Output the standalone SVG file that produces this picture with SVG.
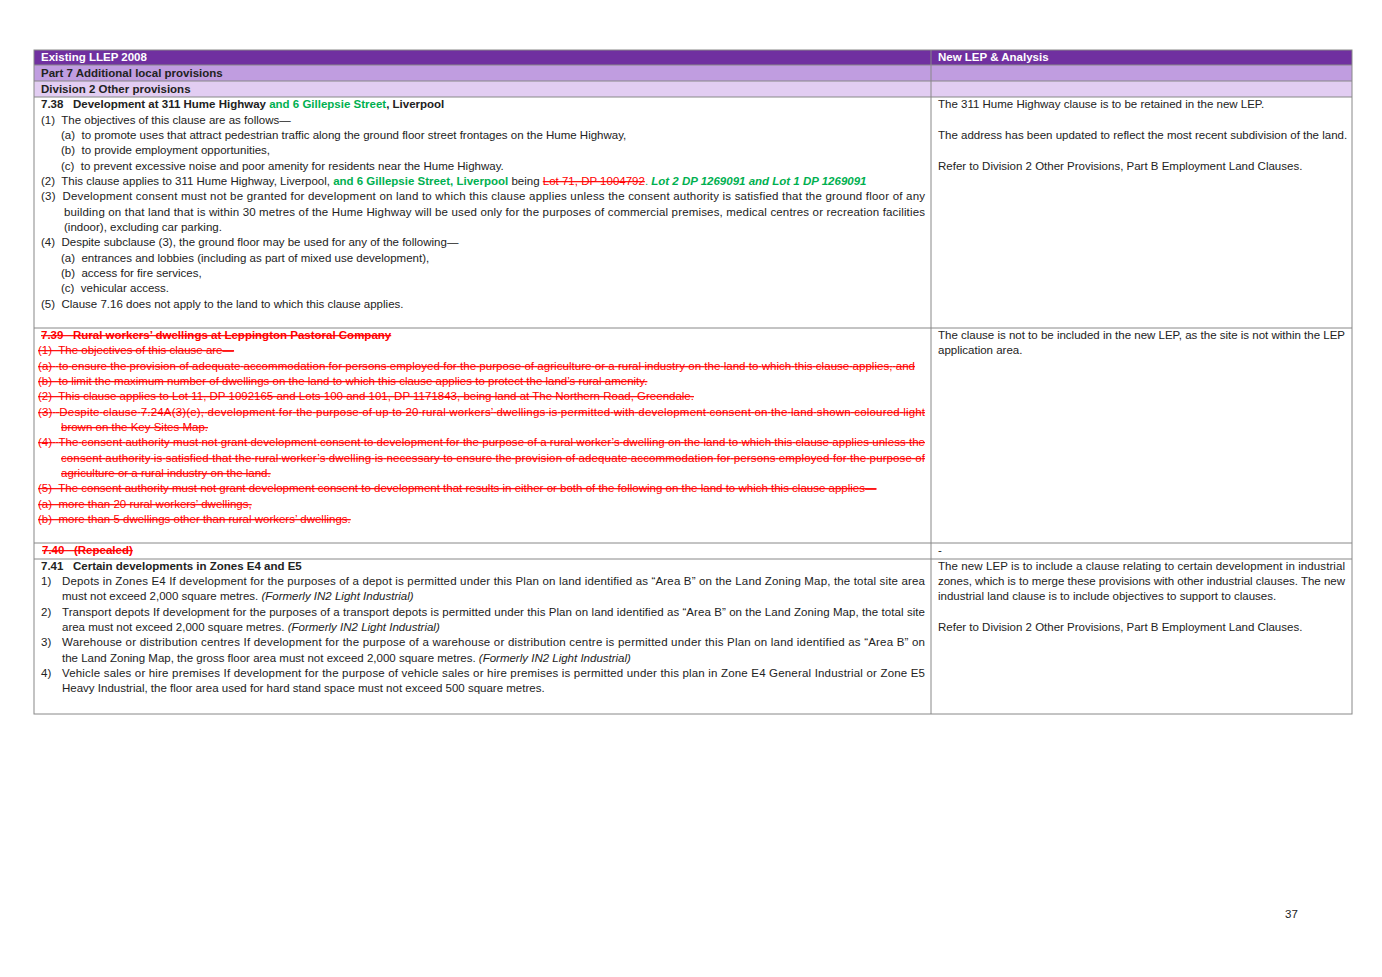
<svg xmlns="http://www.w3.org/2000/svg" width="1382" height="977" viewBox="0 0 1382 977">
<style>
text{font-family:"Liberation Sans",Arial,sans-serif;font-size:11.5px;fill:#222;white-space:pre}
.b{font-weight:bold}
.w{fill:#fff;font-weight:bold}
.g{fill:#00b050}
.r{fill:#ff0000;text-decoration:line-through}
.i{font-style:italic}
.ln{stroke:#888;stroke-width:1;fill:none}
</style>
<rect width="1382" height="977" fill="#fff"/>
<g id="table">
<rect x="34" y="50" width="1318" height="15" fill="#7030a0"/>
<rect x="34" y="65" width="1318" height="16" fill="#c09de0"/>
<rect x="34" y="81" width="1318" height="16" fill="#e2cdf2"/>
<rect x="34" y="50" width="1318" height="664" class="ln"/>
<line x1="931" y1="50" x2="931" y2="714" class="ln"/>
<line x1="34" y1="65" x2="1352" y2="65" class="ln"/>
<line x1="34" y1="81" x2="1352" y2="81" class="ln"/>
<line x1="34" y1="97" x2="1352" y2="97" class="ln"/>
<line x1="34" y1="328" x2="1352" y2="328" class="ln"/>
<line x1="34" y1="543" x2="1352" y2="543" class="ln"/>
<line x1="34" y1="559" x2="1352" y2="559" class="ln"/>
</g>
<g id="headers">
<text x="41" y="61" class="w">Existing LLEP 2008</text>
<text x="938" y="61" class="w">New LEP &amp; Analysis</text>
<text x="41" y="77" class="b">Part 7 Additional local provisions</text>
<text x="41" y="93" class="b">Division 2 Other provisions</text>
</g>
<g id="c738">
<text x="41" y="108" class="b">7.38   Development at 311 Hume Highway <tspan class="g">and 6 Gillepsie Street</tspan>, Liverpool</text>
<text x="41" y="124">(1)  The objectives of this clause are as follows—</text>
<text x="61" y="139">(a)  to promote uses that attract pedestrian traffic along the ground floor street frontages on the Hume Highway,</text>
<text x="61" y="154">(b)  to provide employment opportunities,</text>
<text x="61" y="170">(c)  to prevent excessive noise and poor amenity for residents near the Hume Highway.</text>
<text x="41" y="185">(2)  This clause applies to 311 Hume Highway, Liverpool, <tspan class="g b">and 6 Gillepsie Street, Liverpool</tspan> being <tspan class="r">Lot 71, DP 1004792</tspan><tspan class="g">. </tspan><tspan class="g b i">Lot 2 DP 1269091 and Lot 1 DP 1269091</tspan></text>
<text x="41" y="200" textLength="884" lengthAdjust="spacing">(3)  Development consent must not be granted for development on land to which this clause applies unless the consent authority is satisfied that the ground floor of any</text>
<text x="64" y="216" textLength="861" lengthAdjust="spacing">building on that land that is within 30 metres of the Hume Highway will be used only for the purposes of commercial premises, medical centres or recreation facilities</text>
<text x="64" y="231">(indoor), excluding car parking.</text>
<text x="41" y="246">(4)  Despite subclause (3), the ground floor may be used for any of the following—</text>
<text x="61" y="262">(a)  entrances and lobbies (including as part of mixed use development),</text>
<text x="61" y="277">(b)  access for fire services,</text>
<text x="61" y="292">(c)  vehicular access.</text>
<text x="41" y="308">(5)  Clause 7.16 does not apply to the land to which this clause applies.</text>
<text x="938" y="108">The 311 Hume Highway clause is to be retained in the new LEP.</text>
<text x="938" y="139">The address has been updated to reflect the most recent subdivision of the land.</text>
<text x="938" y="170">Refer to Division 2 Other Provisions, Part B Employment Land Clauses.</text>
</g>
<g id="c739">
<text x="41" y="339" class="r b">7.39   Rural workers’ dwellings at Leppington Pastoral Company</text>
<text x="38" y="354" class="r">(1)  The objectives of this clause are—</text>
<text x="38" y="370" class="r" textLength="877" lengthAdjust="spacing">(a)  to ensure the provision of adequate accommodation for persons employed for the purpose of agriculture or a rural industry on the land to which this clause applies, and</text>
<text x="38" y="385" class="r">(b)  to limit the maximum number of dwellings on the land to which this clause applies to protect the land’s rural amenity.</text>
<text x="38" y="400" class="r">(2)  This clause applies to Lot 11, DP 1092165 and Lots 100 and 101, DP 1171843, being land at The Northern Road, Greendale.</text>
<text x="38" y="416" class="r" textLength="887" lengthAdjust="spacing">(3)  Despite clause 7.24A(3)(e), development for the purpose of up to 20 rural workers’ dwellings is permitted with development consent on the land shown coloured light</text>
<text x="61" y="431" class="r">brown on the Key Sites Map.</text>
<text x="38" y="446" class="r" textLength="887" lengthAdjust="spacing">(4)  The consent authority must not grant development consent to development for the purpose of a rural worker’s dwelling on the land to which this clause applies unless the</text>
<text x="61" y="462" class="r" textLength="864" lengthAdjust="spacing">consent authority is satisfied that the rural worker’s dwelling is necessary to ensure the provision of adequate accommodation for persons employed for the purpose of</text>
<text x="61" y="477" class="r">agriculture or a rural industry on the land.</text>
<text x="38" y="492" class="r">(5)  The consent authority must not grant development consent to development that results in either or both of the following on the land to which this clause applies—</text>
<text x="38" y="508" class="r">(a)  more than 20 rural workers’ dwellings,</text>
<text x="38" y="523" class="r">(b)  more than 5 dwellings other than rural workers’ dwellings.</text>
<text x="938" y="339" textLength="407" lengthAdjust="spacing">The clause is not to be included in the new LEP, as the site is not within the LEP</text>
<text x="938" y="354">application area.</text>
</g>
<g id="c740">
<text x="42" y="554" class="r b">7.40   (Repealed)</text>
<text x="938" y="554">-</text>
</g>
<g id="c741">
<text x="41" y="570" class="b">7.41   Certain developments in Zones E4 and E5</text>
<text x="41" y="585">1)</text>
<text x="62" y="585" textLength="863" lengthAdjust="spacing">Depots in Zones E4 If development for the purposes of a depot is permitted under this Plan on land identified as “Area B” on the Land Zoning Map, the total site area</text>
<text x="62" y="600">must not exceed 2,000 square metres. <tspan class="i">(Formerly IN2 Light Industrial)</tspan></text>
<text x="41" y="616">2)</text>
<text x="62" y="616" textLength="863" lengthAdjust="spacing">Transport depots If development for the purposes of a transport depots is permitted under this Plan on land identified as “Area B” on the Land Zoning Map, the total site</text>
<text x="62" y="631">area must not exceed 2,000 square metres. <tspan class="i">(Formerly IN2 Light Industrial)</tspan></text>
<text x="41" y="646">3)</text>
<text x="62" y="646" textLength="863" lengthAdjust="spacing">Warehouse or distribution centres If development for the purpose of a warehouse or distribution centre is permitted under this Plan on land identified as “Area B” on</text>
<text x="62" y="662">the Land Zoning Map, the gross floor area must not exceed 2,000 square metres. <tspan class="i">(Formerly IN2 Light Industrial)</tspan></text>
<text x="41" y="677">4)</text>
<text x="62" y="677" textLength="863" lengthAdjust="spacing">Vehicle sales or hire premises If development for the purpose of vehicle sales or hire premises is permitted under this plan in Zone E4 General Industrial or Zone E5</text>
<text x="62" y="692">Heavy Industrial, the floor area used for hard stand space must not exceed 500 square metres.</text>
<text x="938" y="570" textLength="407" lengthAdjust="spacing">The new LEP is to include a clause relating to certain development in industrial</text>
<text x="938" y="585" textLength="407" lengthAdjust="spacing">zones, which is to merge these provisions with other industrial clauses. The new</text>
<text x="938" y="600">industrial land clause is to include objectives to support to clauses.</text>
<text x="938" y="631">Refer to Division 2 Other Provisions, Part B Employment Land Clauses.</text>
</g>
<text x="1285" y="918" font-size="12">37</text>
</svg>
